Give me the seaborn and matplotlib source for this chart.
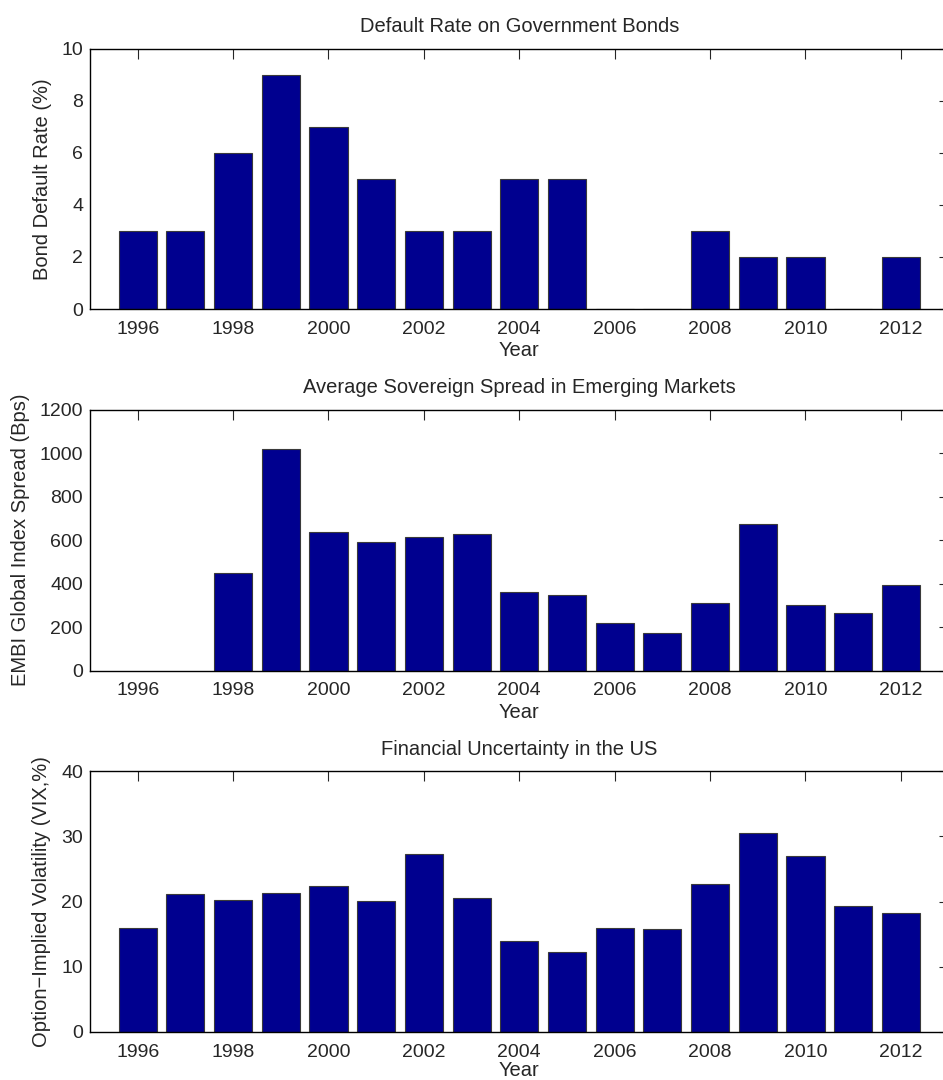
import numpy as np
import pandas as pd
import matplotlib
matplotlib.use('Agg')
import matplotlib.pyplot as plt
import seaborn as sns

# data
years = list(range(1996, 2013))
default_rate = [3, 3, 6, 9, 7, 5, 3, 3, 5, 5, 0, 0, 3, 2, 2, 0, 2]
embi_spread = [np.nan, np.nan, 448, 1022, 637, 590, 617, 631, 361, 350, 220, 172, 310, 674, 300, 267, 392]
vix = [15.9, 21.2, 20.2, 21.3, 22.4, 20.1, 27.3, 20.6, 14.0, 12.3, 15.9, 15.8, 22.7, 30.6, 27.0, 19.3, 18.2]

titles = ['Default Rate on Government Bonds',
          'Average Sovereign Spread in Emerging Markets',
          'Financial Uncertainty in the US']
ylabels = ['Bond Default Rate (%)',
           'EMBI Global Index Spread (Bps)',
           'Option\u2212Implied Volatility (VIX,%)']
ylims = [(0, 10), (0, 1200), (0, 40)]
yticks = [np.arange(0, 11, 2), np.arange(0, 1201, 200), np.arange(0, 41, 10)]

sns.set_style('white')
plt.rcParams['font.family'] = ['Liberation Sans', 'DejaVu Sans']

fig = plt.figure(figsize=(9.43, 10.8), dpi=100)

# axes boxes in pixels (left, top, bottom); right edge runs past the figure like the original
boxes = [(90, 48.7, 309), (90, 410, 670.5), (90, 771.3, 1032)]
W, H = 943, 1080

for i, series in enumerate([default_rate, embi_spread, vix]):
    left, top, bottom = boxes[i]
    ax = fig.add_axes([left / W, 1 - bottom / H, 858.6 / W, (bottom - top) / H])
    df = pd.DataFrame({'Year': years, 'Value': series})
    sns.barplot(data=df, x='Year', y='Value', native_scale=True, color='#00008F',
                saturation=1, edgecolor='#3a3a3a', linewidth=0.8, width=0.8, ax=ax)
    ax.set_xlim(1995, 2013)
    ax.set_ylim(*ylims[i])
    ax.set_xticks(range(1996, 2013, 2))
    ax.set_yticks(yticks[i])
    ax.tick_params(direction='in', top=True, right=True, length=7, width=0.8,
                   labelsize=14)
    ax.tick_params(axis='x', pad=8.5)
    ax.tick_params(axis='y', pad=5)
    for s in ax.spines.values():
        s.set_visible(True)
        s.set_color('black')
        s.set_linewidth(1.0)
    ax.set_title(titles[i], fontsize=14.5, pad=12)
    # last "Year" sits right at the bottom edge, pull it up a touch
    ax.set_xlabel('Year', fontsize=14.5, labelpad=2.5 if i < 2 else 0)
    ax.set_ylabel(ylabels[i], fontsize=14.5, labelpad=7)

plt.savefig('out.png', dpi=100)
